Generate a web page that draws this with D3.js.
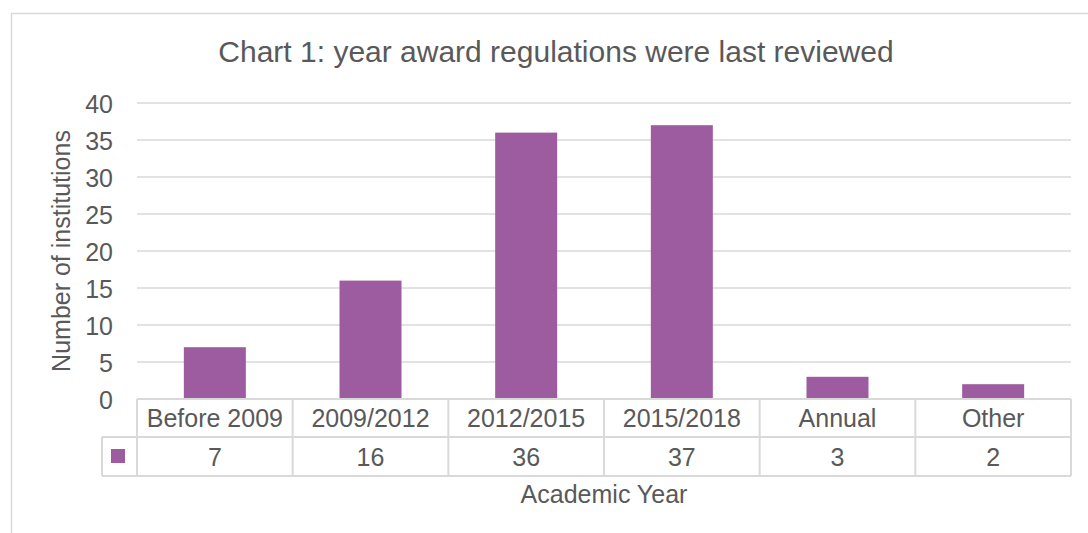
<!DOCTYPE html>
<html><head><meta charset="utf-8">
<script src="https://cdn.jsdelivr.net/npm/d3@7"></script>
<style>body{margin:0;background:#fff}svg{display:block}text{font-family:"Liberation Sans",Arial,sans-serif;fill:#595959}</style>
</head><body><svg id="c" width="1088" height="533"></svg>
<script>
const categories = ["Before 2009","2009/2012","2012/2015","2015/2018","Annual","Other"];
const values = [7,16,36,37,3,2];
const yTicks = [0,5,10,15,20,25,30,35,40];
const title = "Chart 1: year award regulations were last reviewed";
const yTitle = "Number of institutions";
const xTitle = "Academic Year";

const svg = d3.select("#c");
const L = 137, R = 1071, T = 103, B = 399;
const x = d3.scaleBand().domain(categories).range([L, R]).paddingInner(0).paddingOuter(0);
const y = d3.scaleLinear().domain([0, 40]).range([B, T]);
const grid = "#d9d9d9";

// chart border
svg.append("path").attr("d","M11.5,533 V13.5 H1088").attr("fill","none").attr("stroke",grid).attr("stroke-width",1.5);

svg.append("text").attr("x",556).attr("y",62).attr("text-anchor","middle").attr("font-size",30).text(title);

// gridlines
svg.append("g").selectAll("line").data(yTicks.filter(d=>d>0)).join("line")
  .attr("x1",L).attr("x2",R).attr("y1",d=>y(d)).attr("y2",d=>y(d)).attr("stroke",grid).attr("stroke-width",1.5);

// y axis labels
const yAxis = d3.axisLeft(y).tickValues(yTicks).tickSize(0).tickPadding(0);
const ga = svg.append("g").attr("transform",`translate(113,0)`).call(yAxis);
ga.select(".domain").remove();
ga.selectAll("text").attr("font-size",25).attr("fill","#595959").attr("dy","0.36em").style("font-family",'"Liberation Sans",Arial,sans-serif');

// bars
const bw = 62;
svg.append("g").selectAll("rect").data(values).join("rect")
  .attr("x",(d,i)=>x(categories[i])+x.bandwidth()/2-bw/2).attr("width",bw)
  .attr("y",d=>y(d)).attr("height",d=>B-y(d)).attr("fill","#9E5CA0");

// data table
const r1 = 399, r2 = 437, r3 = 476, legL = 102;
const tb = svg.append("g").attr("stroke",grid).attr("stroke-width",2).attr("fill","none");
tb.append("line").attr("x1",L).attr("x2",R).attr("y1",r1).attr("y2",r1);
tb.append("line").attr("x1",legL).attr("x2",R).attr("y1",r2).attr("y2",r2);
tb.append("line").attr("x1",legL).attr("x2",R).attr("y1",r3).attr("y2",r3);
tb.append("line").attr("x1",legL).attr("x2",legL).attr("y1",r2).attr("y2",r3);
const bounds = categories.map(c=>x(c)).concat([R]);
tb.selectAll(".v").data(bounds).join("line").attr("x1",d=>d).attr("x2",d=>d).attr("y1",r1).attr("y2",r3);

svg.append("g").selectAll("text").data(categories).join("text")
  .attr("x",d=>x(d)+x.bandwidth()/2).attr("y",(r1+r2)/2).attr("dy","0.36em")
  .attr("text-anchor","middle").attr("font-size",25).text(d=>d);
svg.append("g").selectAll("text").data(values).join("text")
  .attr("x",(d,i)=>x(categories[i])+x.bandwidth()/2).attr("y",(r2+r3)/2).attr("dy","0.36em")
  .attr("text-anchor","middle").attr("font-size",25).text(d=>d);
svg.append("rect").attr("x",111).attr("y",449).attr("width",14).attr("height",14).attr("fill","#9E5CA0");

svg.append("text").attr("x",604).attr("y",503).attr("text-anchor","middle").attr("font-size",25).text(xTitle);
svg.append("text").attr("transform","translate(70,251) rotate(-90)").attr("text-anchor","middle").attr("font-size",25).text(yTitle);
</script></body></html>
